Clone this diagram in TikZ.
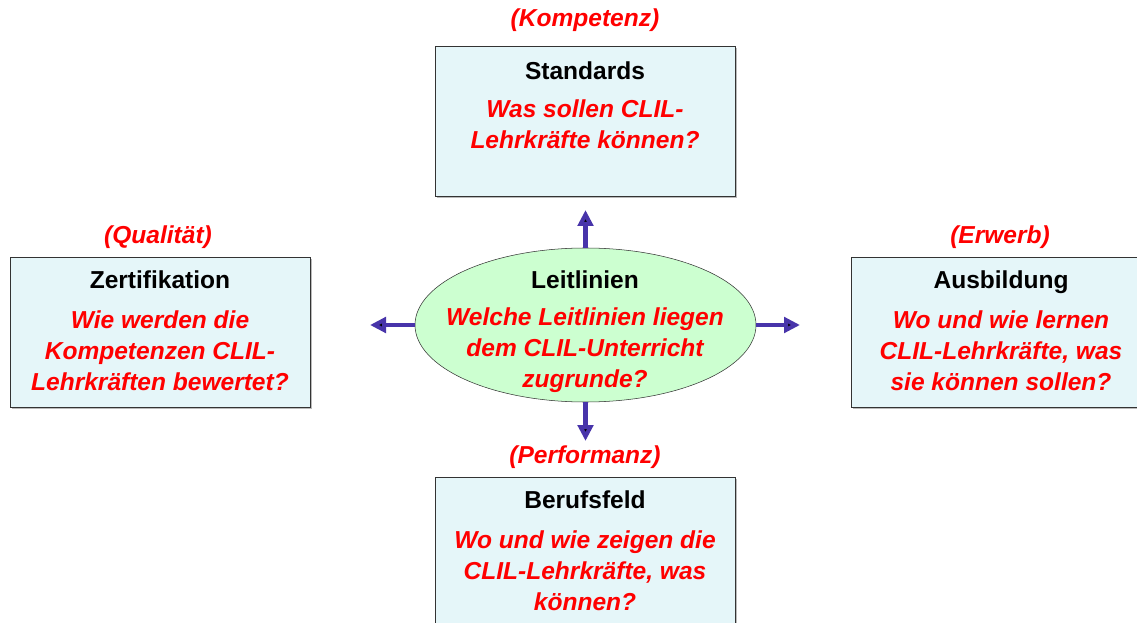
\documentclass[tikz,border=0pt]{standalone}
\usepackage{fontspec}
\setmainfont{Liberation Sans}
\usepackage{tikz}
\usetikzlibrary{shapes.geometric, arrows.meta, shadows}

\definecolor{boxfill}{RGB}{229,246,249}
\definecolor{hubfill}{RGB}{204,255,208}
\definecolor{arrowblue}{RGB}{72,52,170}

\begin{document}
\begin{tikzpicture}[x=0.75pt, y=-0.75pt,
    area/.style={draw=black!80, fill=boxfill, rectangle, minimum width=225pt, minimum height=112.5pt, inner sep=0pt,
        drop shadow={shadow xshift=1.2pt, shadow yshift=-1.2pt, fill=black!45, opacity=0.6}},
    hub/.style={draw=black!80, fill=hubfill, ellipse, minimum width=255.75pt, minimum height=115.5pt, inner sep=0pt},
    heading/.style={font=\fontsize{18.4}{23.2}\selectfont\bfseries, inner sep=0pt, text height=13pt, text depth=0pt},
    question/.style={font=\fontsize{18.4}{23.2}\selectfont\bfseries\itshape, text=red, align=center, inner sep=0pt},
    arr/.style={-{Triangle[length=12pt, width=11.5pt]}, line width=3.5pt, draw=arrowblue}]
    \clip (0, 0) rectangle (1137, 623);

    \node[area] at (585, 121) (std) {};
    \node[area] at (160, 332) (zert) {};
    \node[area] at (1001, 332) (ausb) {};
    \node[area] at (585, 552) (beruf) {};
    \node[hub] at (585.5, 325) (leit) {};

    \node[question] at (585, 20) (kompL) {(Kompetenz)};
    \node[question] at (158, 237) (qualL) {(Qualität)};
    \node[question] at (1000, 237) (erwL) {(Erwerb)};
    \node[question] at (585, 457) (perfL) {(Performanz)};

    \node[heading] at (585, 71) (stdT) {Standards};
    \node[question] at (585, 124.5) (stdQ) {Was sollen CLIL-\\Lehrkräfte können?};
    \node[heading] at (160, 280) (zertT) {Zertifikation};
    \node[question] at (160, 351) (zertQ) {Wie werden die\\Kompetenzen CLIL-\\Lehrkräften bewertet?};
    \node[heading] at (1001, 280) (ausbT) {Ausbildung};
    \node[question] at (1001, 351) (ausbQ) {Wo und wie lernen\\CLIL-Lehrkräfte, was\\sie können sollen?};
    \node[heading] at (585, 500) (berufT) {Berufsfeld};
    \node[question] at (585, 570.5) (berufQ) {Wo und wie zeigen die\\CLIL-Lehrkräfte, was\\können?};
    \node[heading] at (585, 280) (leitT) {Leitlinien};
    \node[question] at (585, 350) (leitQ) {Welche Leitlinien liegen\\dem CLIL-Unterricht\\zugrunde?};

    \coordinate (upEnd) at (585.5, 210);
    \coordinate (downEnd) at (585.5, 441);
    \coordinate (leftEnd) at (370, 325);
    \coordinate (rightEnd) at (800, 325);

    \draw[arr] (leit) edge (upEnd);
    \draw[arr] (leit) edge (downEnd);
    \draw[arr] (leit) edge (leftEnd);
    \draw[arr] (leit) edge (rightEnd);
\end{tikzpicture}
\end{document}
